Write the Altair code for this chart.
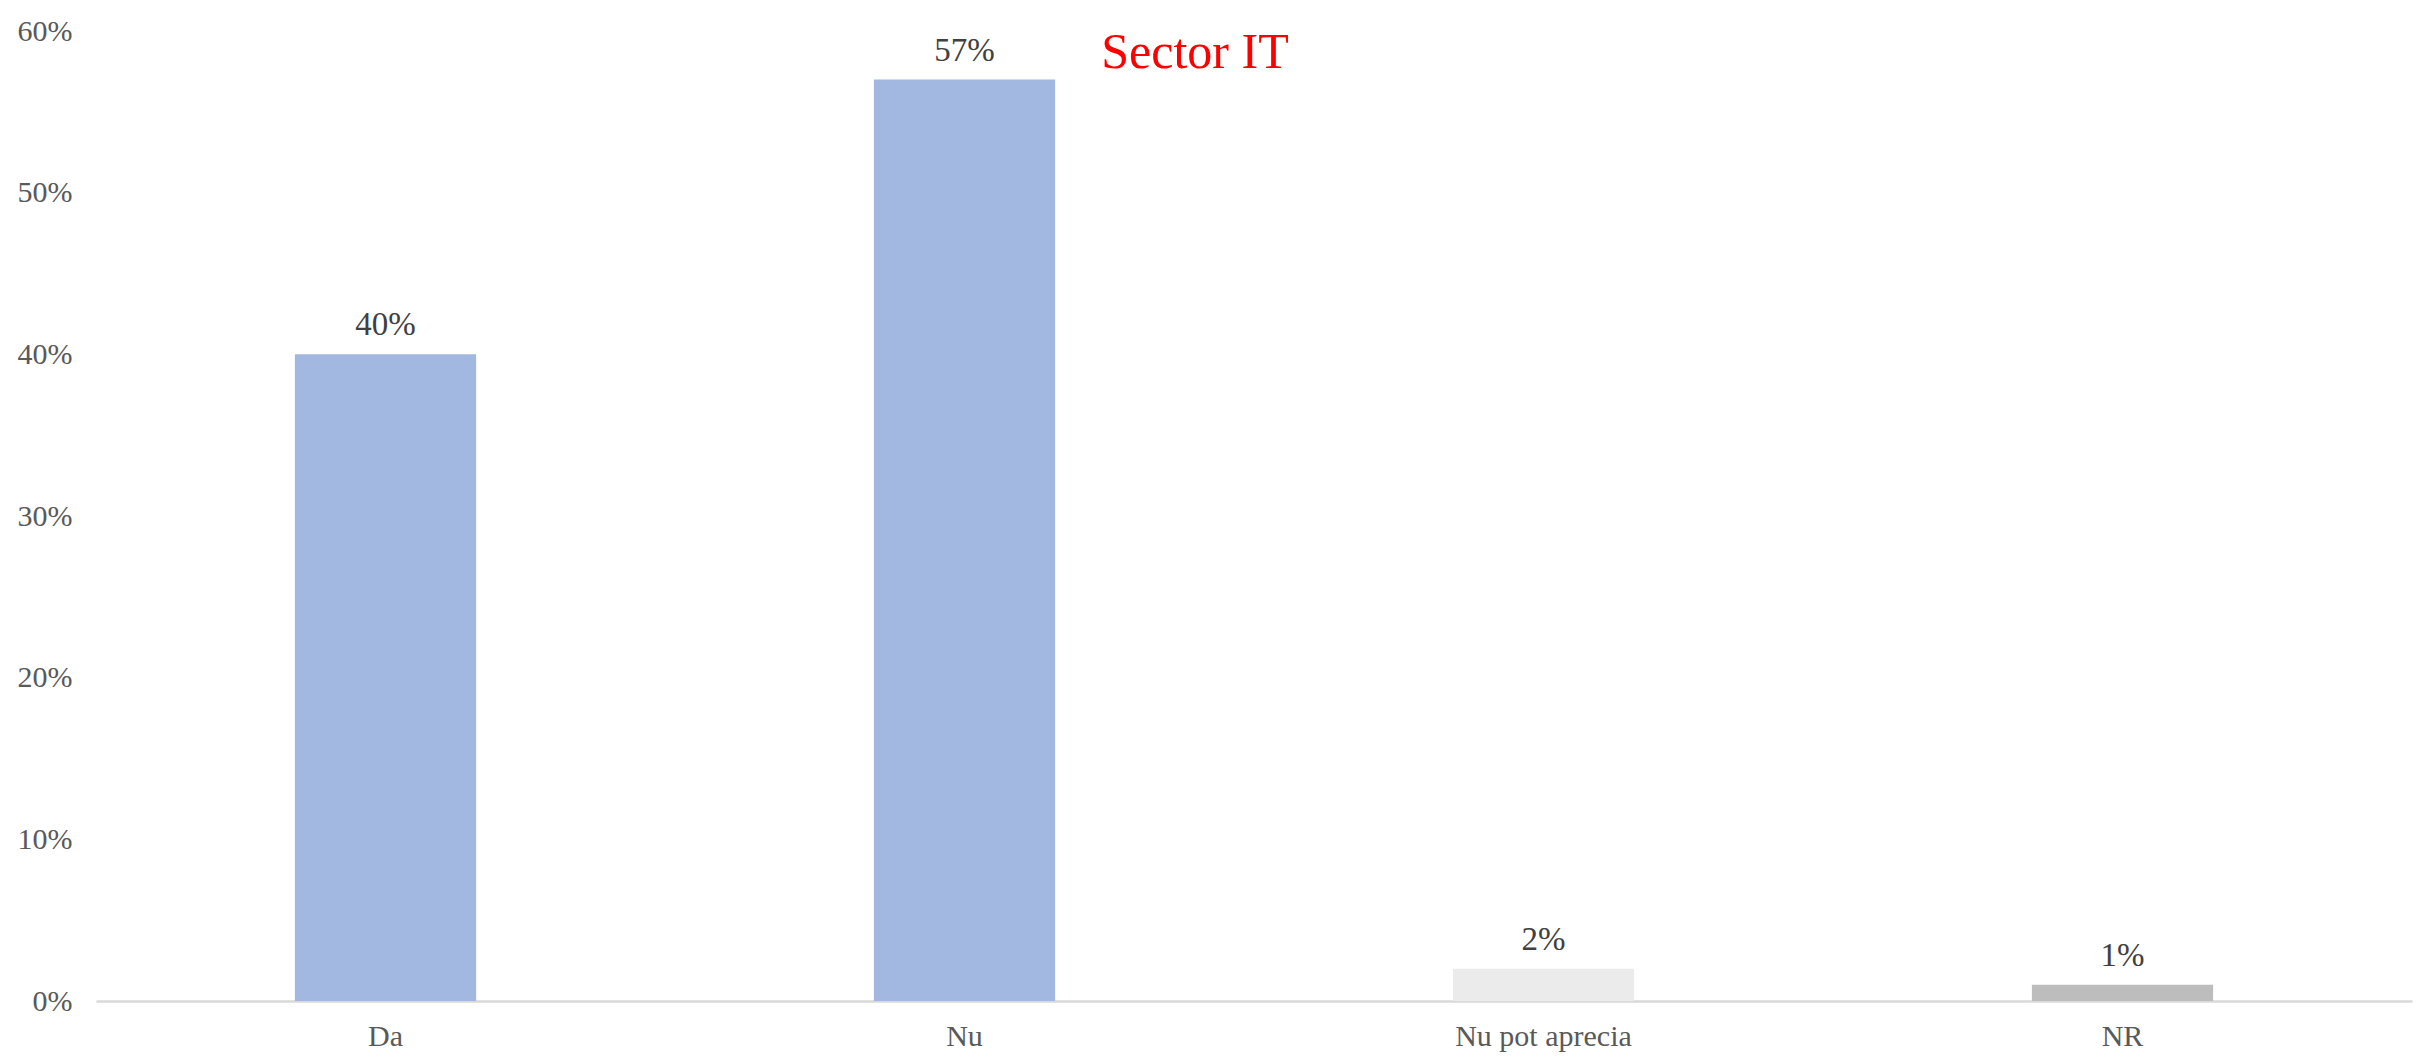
import altair as alt
import pandas as pd

categories = ["Da", "Nu", "Nu pot aprecia", "NR"]
values = [0.40, 0.57, 0.02, 0.01]
colors = ["#A3B8E0", "#A3B8E0", "#EBEBEB", "#BDBDBD"]

df = pd.DataFrame({"cat": categories, "val": values, "col": colors})

FONT = "Liberation Serif"

base = alt.Chart(df).encode(
    x=alt.X("cat:N", sort=categories, title=None,
            scale=alt.Scale(paddingInner=0.687, paddingOuter=0.3435),
            axis=alt.Axis(labelAngle=0, labelFont=FONT, labelFontSize=30,
                          labelColor="#595959", ticks=False, domainColor="#D9D9D9",
                          domainWidth=2.5, labelPadding=20)),
    y=alt.Y("val:Q", title=None,
            scale=alt.Scale(domain=[0, 0.6]),
            axis=alt.Axis(format=".0%", values=[0, 0.1, 0.2, 0.3, 0.4, 0.5, 0.6],
                          labelFont=FONT, labelFontSize=30, labelColor="#595959",
                          ticks=False, domain=False, grid=False, labelPadding=24)),
)

bars = base.mark_bar().encode(color=alt.Color("col:N", scale=None))
labels = base.mark_text(baseline="bottom", dy=-12, font=FONT, fontSize=33,
                        color="#404040").encode(text=alt.Text("val:Q", format=".0%"))

chart = (bars + labels).properties(
    width=2316, height=970,
    autosize=alt.AutoSizeParams(type="none"),
    padding={"left": 88, "top": 23, "right": 8, "bottom": 58},
    title=alt.TitleParams("Sector IT", color="#FF0000", font=FONT, fontSize=50,
                          fontWeight="normal", anchor="middle", dx=-59, dy=66),
).configure_view(stroke=None)

chart.save("out.html", embed_options={"renderer": "svg", "actions": False})
